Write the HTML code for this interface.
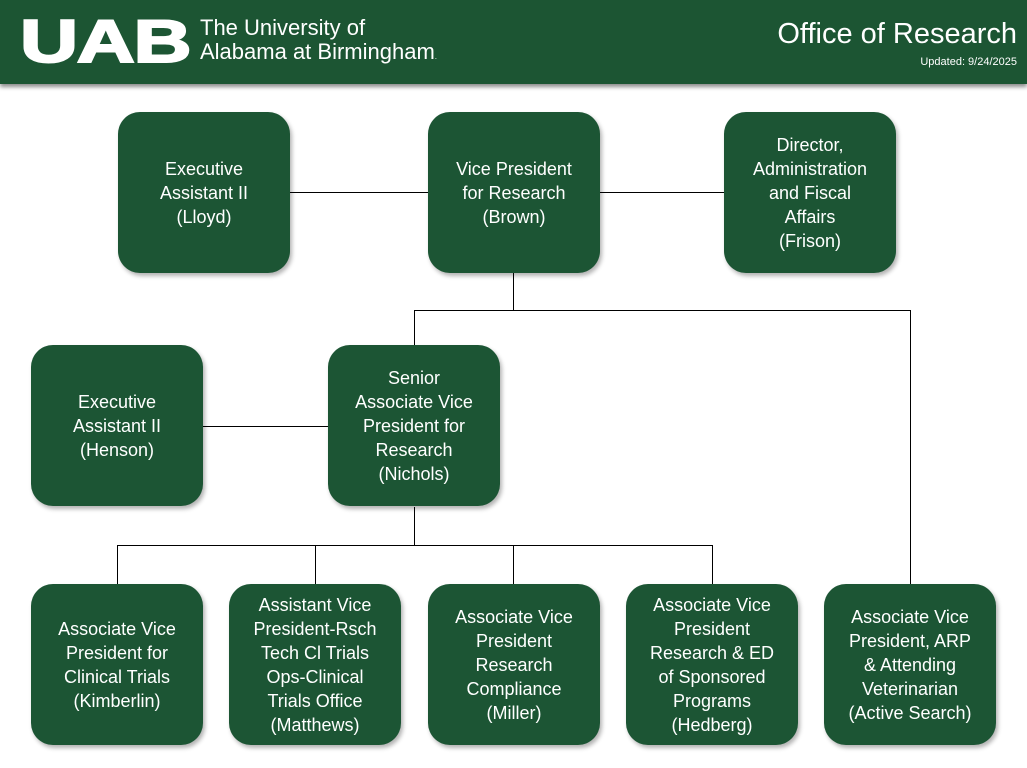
<!DOCTYPE html>
<html><head><style>
body{margin:0;width:1027px;height:768px;background:#fff;position:relative;overflow:hidden;font-family:"Liberation Sans",sans-serif}
.hdr{position:absolute;left:0;top:0;width:1027px;height:84px;background:#1c5533;box-shadow:0 3px 4px rgba(0,0,0,.45)}
.b{position:absolute;width:172px;height:161px;background:#1c5534;border-radius:22px;box-shadow:2px 3px 4px rgba(0,0,0,.3);color:#fff;font-size:18px;line-height:24px;display:flex;align-items:center;justify-content:center;text-align:center}
.l{position:absolute;background:#000}
</style></head><body>
<div class="hdr">
<div style="position:absolute;left:20px;top:7px;color:#fff;font-weight:bold;font-size:60px;letter-spacing:-1px;transform:scaleX(1.34);transform-origin:left;line-height:70px;-webkit-text-stroke:2px #fff">UAB</div>
<div style="position:absolute;left:200px;top:16px;color:#fff;font-size:22px;line-height:24px">The University of<br>Alabama at Birmingham<span style="font-size:8px">.</span></div>
<div style="position:absolute;right:10px;top:18px;color:#fff;font-size:29px">Office of Research</div>
<div style="position:absolute;right:10px;top:56px;color:#fff;font-size:11px">Updated: 9/24/2025</div>
</div>
<div class="l" style="left:290px;top:192px;width:138px;height:1px"></div>
<div class="l" style="left:599px;top:192px;width:125px;height:1px"></div>
<div class="l" style="left:513px;top:273px;width:1px;height:37px"></div>
<div class="l" style="left:414px;top:310px;width:497px;height:1px"></div>
<div class="l" style="left:414px;top:310px;width:1px;height:35px"></div>
<div class="l" style="left:910px;top:310px;width:1px;height:274px"></div>
<div class="l" style="left:203px;top:426px;width:125px;height:1px"></div>
<div class="l" style="left:414px;top:507px;width:1px;height:38px"></div>
<div class="l" style="left:117px;top:545px;width:596px;height:1px"></div>
<div class="l" style="left:117px;top:545px;width:1px;height:39px"></div>
<div class="l" style="left:315px;top:545px;width:1px;height:39px"></div>
<div class="l" style="left:513px;top:545px;width:1px;height:39px"></div>
<div class="l" style="left:712px;top:545px;width:1px;height:39px"></div>
<div class="b" style="left:118px;top:112px">Executive<br>Assistant II<br>(Lloyd)</div>
<div class="b" style="left:428px;top:112px">Vice President<br>for Research<br>(Brown)</div>
<div class="b" style="left:724px;top:112px">Director,<br>Administration<br>and Fiscal<br>Affairs<br>(Frison)</div>
<div class="b" style="left:31px;top:345px">Executive<br>Assistant II<br>(Henson)</div>
<div class="b" style="left:328px;top:345px">Senior<br>Associate Vice<br>President for<br>Research<br>(Nichols)</div>
<div class="b" style="left:31px;top:584px">Associate Vice<br>President for<br>Clinical Trials<br>(Kimberlin)</div>
<div class="b" style="left:229px;top:584px">Assistant Vice<br>President-Rsch<br>Tech Cl Trials<br>Ops-Clinical<br>Trials Office<br>(Matthews)</div>
<div class="b" style="left:428px;top:584px">Associate Vice<br>President<br>Research<br>Compliance<br>(Miller)</div>
<div class="b" style="left:626px;top:584px">Associate Vice<br>President<br>Research &amp; ED<br>of Sponsored<br>Programs<br>(Hedberg)</div>
<div class="b" style="left:824px;top:584px">Associate Vice<br>President, ARP<br>&amp; Attending<br>Veterinarian<br>(Active Search)</div>
</body></html>
